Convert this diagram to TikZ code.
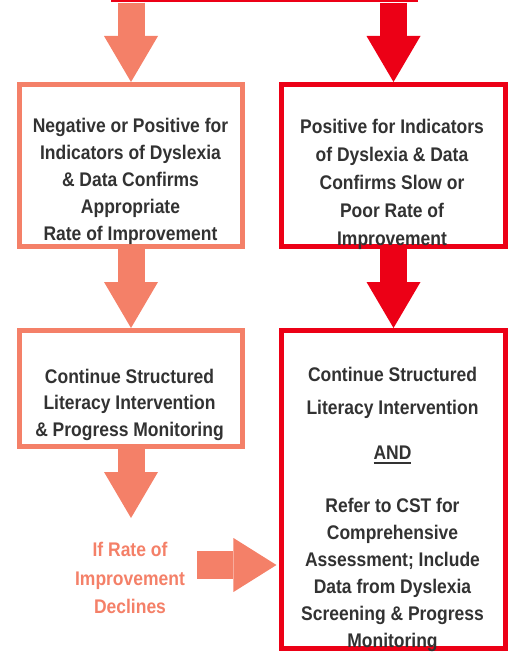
\documentclass[tikz,border=0pt]{standalone}
\usepackage{fontspec}
\newfontfamily\boxfont{Liberation Sans}[FakeStretch=0.886]
\usetikzlibrary{arrows.meta}
\definecolor{salmon}{RGB}{244,128,104}
\definecolor{alert}{RGB}{236,0,22}
\definecolor{ink}{RGB}{50,50,50}
\newcommand{\thickul}[1]{\setbox0\hbox{#1}\rlap{\rule[-3.3pt]{\wd0}{1.5pt}}\box0}
\begin{document}
\begin{tikzpicture}[x=0.75pt,y=-0.75pt,every node/.style={inner sep=0pt},
  lbox/.style={draw=salmon,line width=3.75pt,minimum width=167.25pt},
  rbox/.style={draw=alert,line width=3.75pt,minimum width=168pt},
  txt/.style={text=ink,align=center,anchor=north,font=\boxfont\bfseries\fontsize{14.8pt}{#1}\selectfont},
  larr/.style={salmon,line width=20.25pt,-{Triangle[length=34.5pt,width=40.5pt,line width=0pt 0 0]}},
  rarr/.style={alert,line width=20.25pt,-{Triangle[length=34.5pt,width=40.5pt,line width=0pt 0 0]}}]
\useasboundingbox (0,0) rectangle (516,652);
\node[fill=alert,minimum width=229.9pt,minimum height=1.7pt] (prev) at (264.75,1.15) {};
\node[lbox,minimum height=121.5pt] (neg) at (131,165.5) {};
\node[rbox,minimum height=121.5pt] (pos) at (393.5,165.5) {};
\node[lbox,minimum height=87pt] (cont) at (131,388.5) {};
\node[rbox,minimum height=238.5pt] (refer) at (393.5,489.5) {};
\node[txt=21.2pt,text=salmon] (decline) at (130,542.4) {If Rate of\\Improvement\\Declines};
\coordinate (turn) at (197,565);
\draw[larr] (prev.south -| neg.north) -- (neg.north);
\draw[rarr] (prev.south -| pos.north) -- (pos.north);
\draw[larr] (neg.south) -- (cont.north);
\draw[rarr] (pos.south) -- (refer.north);
\draw[larr,shorten >=18.3pt] (cont.south) -- (cont.south |- decline.north);
\draw[larr,line width=21pt,-{Triangle[length=32.25pt,width=40.5pt,line width=0pt 0 0]},shorten >=1.9pt] (turn) -- (turn -| refer.west);
\node[txt=20.1pt] (negtxt) at (130.5,118.4) {Negative or Positive for\\Indicators of Dyslexia\\\& Data Confirms\\Appropriate\\Rate of Improvement};
\node[txt=20.9pt] (postxt) at (392,119) {Positive for Indicators\\of Dyslexia \& Data\\Confirms Slow or\\Poor Rate of\\Improvement};
\node[txt=19.65pt] (conttxt) at (129.5,369.2) {Continue Structured\\Literacy Intervention\\\& Progress Monitoring};
\node[txt=20.25pt] (refertxt) at (392.5,366.9) {Continue Structured\\[4.75pt]Literacy Intervention\\[13.5pt]\thickul{AND}\\[19.05pt]Refer to CST for\\Comprehensive\\Assessment; Include\\Data from Dyslexia\\Screening \& Progress\\Monitoring};
\end{tikzpicture}
\end{document}
